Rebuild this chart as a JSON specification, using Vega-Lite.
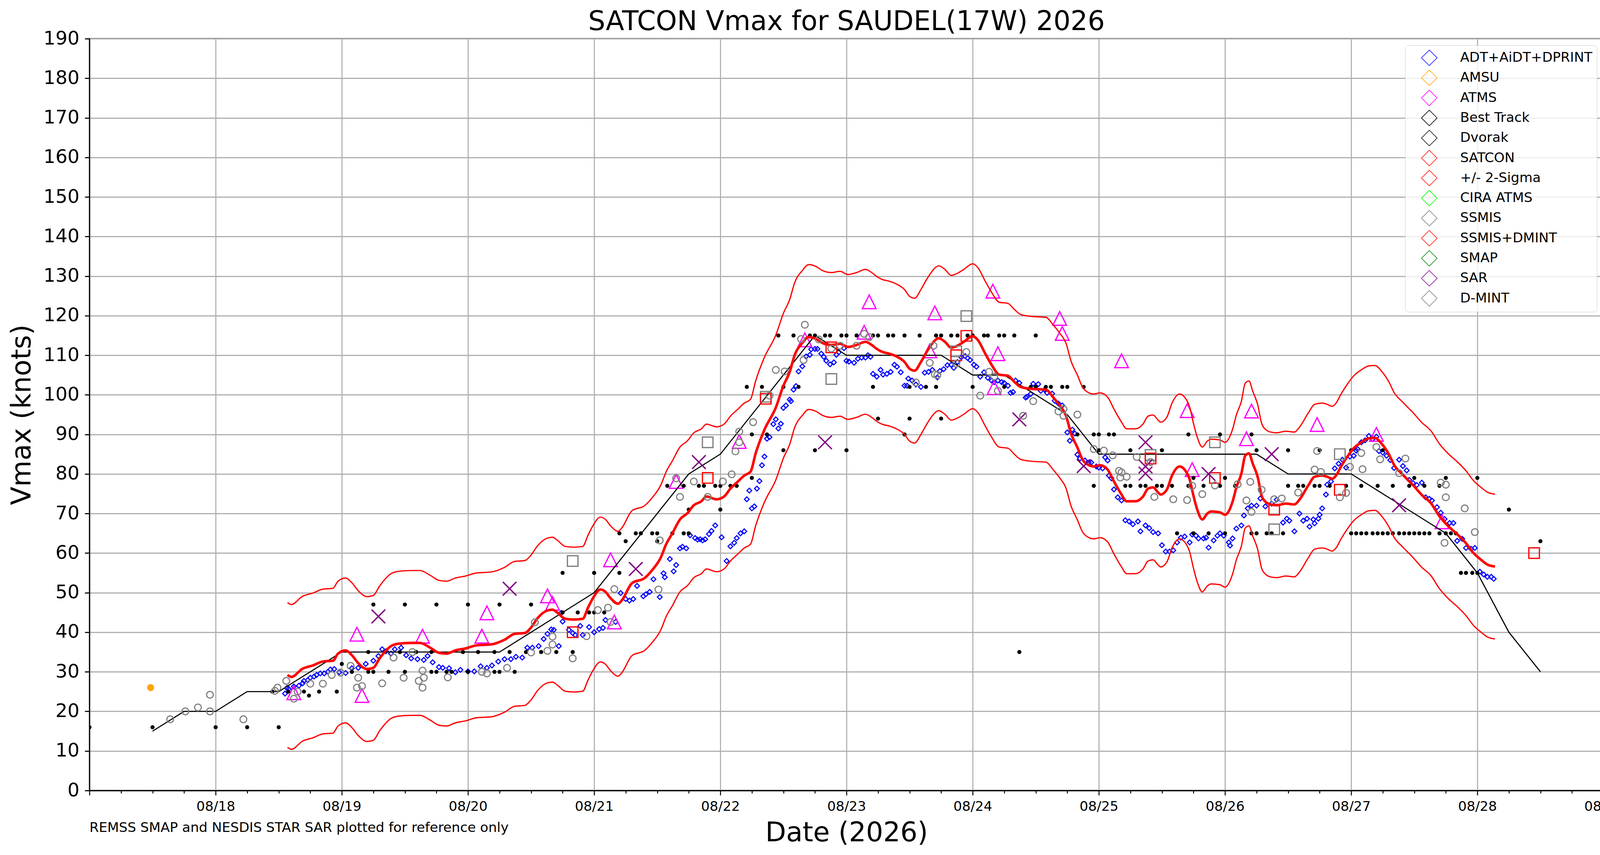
{
"$schema": "https://vega.github.io/schema/vega-lite/v6.json",
"autosize": {"type": "none"},
"padding": {"left": 229, "top": 99, "right": 74, "bottom": 165},
"width": 3876,
"height": 1924,
"background": "white",
"title": {"text": "SATCON Vmax for SAUDEL(17W) 2026", "font": "DejaVu Sans", "fontSize": 69, "fontWeight": "normal", "color": "#000000", "anchor": "middle", "frame": "group", "baseline": "alphabetic", "offset": -72},
"config": {
  "view": {"stroke": "#000000", "strokeWidth": 2.8},
  "font": "DejaVu Sans",
  "axis": {"labelFont": "DejaVu Sans", "titleFont": "DejaVu Sans", "labelColor": "#000000", "titleColor": "#000000", "domainColor": "#000000", "domainWidth": 2.8, "tickColor": "#000000", "gridColor": "#b0b0b0", "gridWidth": 2.8, "titleFontWeight": "normal"}
},
"datasets": {
  "sat": [
{"d":18.57,"v":29.2,"hi":47.5,"lo":10.9},{"d":18.6,"v":28.7,"hi":47.0,"lo":10.4},{"d":18.69,"v":30.8,"hi":49.1,"lo":12.5},{"d":18.77,"v":31.6,"hi":49.9,"lo":13.3},{"d":18.85,"v":32.6,"hi":50.9,"lo":14.3},{"d":18.93,"v":32.8,"hi":51.1,"lo":14.5},{"d":18.97,"v":34.6,"hi":52.9,"lo":16.3},{"d":19.03,"v":35.4,"hi":53.7,"lo":17.1},{"d":19.08,"v":34.2,"hi":52.5,"lo":15.9},{"d":19.13,"v":32.2,"hi":50.5,"lo":13.9},{"d":19.2,"v":30.7,"hi":49.0,"lo":12.4},{"d":19.25,"v":31.0,"hi":49.3,"lo":12.7},{"d":19.3,"v":33.4,"hi":51.7,"lo":15.1},{"d":19.39,"v":36.5,"hi":54.8,"lo":18.2},{"d":19.45,"v":37.1,"hi":55.4,"lo":18.8},{"d":19.55,"v":37.3,"hi":55.6,"lo":19.0},{"d":19.62,"v":37.3,"hi":55.6,"lo":19.0},{"d":19.7,"v":36.1,"hi":54.4,"lo":17.8},{"d":19.77,"v":34.8,"hi":53.1,"lo":16.5},{"d":19.83,"v":34.6,"hi":52.9,"lo":16.3},{"d":19.9,"v":35.4,"hi":53.7,"lo":17.1},{"d":19.98,"v":35.9,"hi":54.2,"lo":17.6},{"d":20.07,"v":36.7,"hi":55.0,"lo":18.4},{"d":20.18,"v":36.9,"hi":55.2,"lo":18.6},{"d":20.29,"v":38.1,"hi":56.4,"lo":19.8},{"d":20.37,"v":39.6,"hi":57.9,"lo":21.3},{"d":20.45,"v":39.8,"hi":58.1,"lo":21.5},{"d":20.5,"v":41.2,"hi":59.5,"lo":22.9},{"d":20.55,"v":43.5,"hi":61.8,"lo":25.2},{"d":20.63,"v":45.5,"hi":63.8,"lo":27.2},{"d":20.67,"v":45.7,"hi":64.0,"lo":27.4},{"d":20.71,"v":44.9,"hi":63.2,"lo":26.6},{"d":20.77,"v":43.4,"hi":61.7,"lo":25.1},{"d":20.84,"v":43.2,"hi":61.5,"lo":24.9},{"d":20.91,"v":43.4,"hi":61.7,"lo":25.1},{"d":20.95,"v":46.1,"hi":64.4,"lo":27.8},{"d":20.99,"v":48.6,"hi":66.9,"lo":30.3},{"d":21.05,"v":50.8,"hi":69.1,"lo":32.5},{"d":21.09,"v":50.2,"hi":68.5,"lo":31.9},{"d":21.13,"v":48.6,"hi":66.9,"lo":30.3},{"d":21.19,"v":47.2,"hi":65.5,"lo":28.9},{"d":21.22,"v":48.1,"hi":66.4,"lo":29.8},{"d":21.3,"v":52.4,"hi":70.7,"lo":34.1},{"d":21.4,"v":53.7,"hi":72.0,"lo":35.4},{"d":21.46,"v":55.7,"hi":74.0,"lo":37.4},{"d":21.53,"v":59.0,"hi":77.3,"lo":40.7},{"d":21.57,"v":62.2,"hi":80.5,"lo":43.9},{"d":21.62,"v":65.0,"hi":83.3,"lo":46.7},{"d":21.68,"v":68.5,"hi":86.8,"lo":50.2},{"d":21.74,"v":70.1,"hi":88.4,"lo":51.8},{"d":21.79,"v":72.1,"hi":90.4,"lo":53.8},{"d":21.85,"v":73.1,"hi":91.4,"lo":54.8},{"d":21.89,"v":74.3,"hi":92.6,"lo":56.0},{"d":21.97,"v":73.6,"hi":91.9,"lo":55.3},{"d":22.03,"v":74.3,"hi":92.6,"lo":56.0},{"d":22.08,"v":76.3,"hi":94.6,"lo":58.0},{"d":22.14,"v":78.1,"hi":96.4,"lo":59.8},{"d":22.19,"v":79.6,"hi":97.9,"lo":61.3},{"d":22.24,"v":80.6,"hi":98.9,"lo":62.3},{"d":22.28,"v":85.2,"hi":103.5,"lo":66.9},{"d":22.35,"v":91.2,"hi":109.5,"lo":72.9},{"d":22.44,"v":96.8,"hi":115.1,"lo":78.5},{"d":22.5,"v":102.3,"hi":120.6,"lo":84.0},{"d":22.55,"v":105.8,"hi":124.1,"lo":87.5},{"d":22.59,"v":110.1,"hi":128.4,"lo":91.8},{"d":22.65,"v":113.1,"hi":131.4,"lo":94.8},{"d":22.7,"v":114.6,"hi":132.9,"lo":96.3},{"d":22.76,"v":114.1,"hi":132.4,"lo":95.8},{"d":22.81,"v":113.1,"hi":131.4,"lo":94.8},{"d":22.88,"v":112.6,"hi":130.9,"lo":94.3},{"d":22.95,"v":112.9,"hi":131.2,"lo":94.6},{"d":23.01,"v":112.1,"hi":130.4,"lo":93.8},{"d":23.08,"v":112.6,"hi":130.9,"lo":94.3},{"d":23.15,"v":113.4,"hi":131.7,"lo":95.1},{"d":23.2,"v":112.6,"hi":130.9,"lo":94.3},{"d":23.24,"v":111.6,"hi":129.9,"lo":93.3},{"d":23.28,"v":110.9,"hi":129.2,"lo":92.6},{"d":23.34,"v":110.4,"hi":128.7,"lo":92.1},{"d":23.39,"v":109.8,"hi":128.1,"lo":91.5},{"d":23.46,"v":108.3,"hi":126.6,"lo":90.0},{"d":23.5,"v":106.6,"hi":124.9,"lo":88.3},{"d":23.54,"v":106.1,"hi":124.4,"lo":87.8},{"d":23.59,"v":108.3,"hi":126.6,"lo":90.0},{"d":23.64,"v":111.1,"hi":129.4,"lo":92.8},{"d":23.71,"v":114.0,"hi":132.3,"lo":95.7},{"d":23.73,"v":114.3,"hi":132.6,"lo":96.0},{"d":23.78,"v":113.4,"hi":131.7,"lo":95.1},{"d":23.83,"v":111.9,"hi":130.2,"lo":93.6},{"d":23.89,"v":112.6,"hi":130.9,"lo":94.3},{"d":23.93,"v":113.4,"hi":131.7,"lo":95.1},{"d":24.0,"v":114.8,"hi":133.1,"lo":96.5},{"d":24.04,"v":113.9,"hi":132.2,"lo":95.6},{"d":24.1,"v":110.4,"hi":128.7,"lo":92.1},{"d":24.15,"v":107.6,"hi":125.9,"lo":89.3},{"d":24.21,"v":105.1,"hi":123.4,"lo":86.8},{"d":24.28,"v":104.8,"hi":123.1,"lo":86.5},{"d":24.33,"v":103.3,"hi":121.6,"lo":85.0},{"d":24.38,"v":102.0,"hi":120.3,"lo":83.7},{"d":24.47,"v":101.5,"hi":119.8,"lo":83.2},{"d":24.58,"v":101.3,"hi":119.6,"lo":83.0},{"d":24.64,"v":99.3,"hi":117.6,"lo":81.0},{"d":24.69,"v":97.3,"hi":115.6,"lo":79.0},{"d":24.74,"v":94.7,"hi":113.0,"lo":76.4},{"d":24.78,"v":90.2,"hi":108.5,"lo":71.9},{"d":24.83,"v":86.7,"hi":105.0,"lo":68.4},{"d":24.87,"v":83.7,"hi":102.0,"lo":65.4},{"d":24.91,"v":82.4,"hi":100.7,"lo":64.1},{"d":24.96,"v":81.9,"hi":100.2,"lo":63.6},{"d":25.01,"v":82.2,"hi":100.5,"lo":63.9},{"d":25.07,"v":81.1,"hi":99.4,"lo":62.8},{"d":25.12,"v":78.1,"hi":96.4,"lo":59.8},{"d":25.18,"v":74.8,"hi":93.1,"lo":56.5},{"d":25.22,"v":73.1,"hi":91.4,"lo":54.8},{"d":25.29,"v":73.1,"hi":91.4,"lo":54.8},{"d":25.35,"v":74.3,"hi":92.6,"lo":56.0},{"d":25.39,"v":76.3,"hi":94.6,"lo":58.0},{"d":25.43,"v":76.6,"hi":94.9,"lo":58.3},{"d":25.47,"v":75.3,"hi":93.6,"lo":57.0},{"d":25.49,"v":74.8,"hi":93.1,"lo":56.5},{"d":25.54,"v":76.1,"hi":94.4,"lo":57.8},{"d":25.58,"v":79.6,"hi":97.9,"lo":61.3},{"d":25.64,"v":81.9,"hi":100.2,"lo":63.6},{"d":25.68,"v":81.1,"hi":99.4,"lo":62.8},{"d":25.72,"v":78.6,"hi":96.9,"lo":60.3},{"d":25.75,"v":74.5,"hi":92.8,"lo":56.2},{"d":25.78,"v":71.0,"hi":89.3,"lo":52.7},{"d":25.82,"v":68.5,"hi":86.8,"lo":50.2},{"d":25.86,"v":70.0,"hi":88.3,"lo":51.7},{"d":25.89,"v":70.5,"hi":88.8,"lo":52.2},{"d":25.96,"v":70.3,"hi":88.6,"lo":52.0},{"d":26.0,"v":69.7,"hi":88.0,"lo":51.4},{"d":26.06,"v":73.0,"hi":91.3,"lo":54.7},{"d":26.09,"v":76.6,"hi":94.9,"lo":58.3},{"d":26.13,"v":80.1,"hi":98.4,"lo":61.8},{"d":26.16,"v":84.6,"hi":102.9,"lo":66.3},{"d":26.19,"v":85.2,"hi":103.5,"lo":66.9},{"d":26.22,"v":82.6,"hi":100.9,"lo":64.3},{"d":26.26,"v":79.1,"hi":97.4,"lo":60.8},{"d":26.29,"v":74.5,"hi":92.8,"lo":56.2},{"d":26.32,"v":73.0,"hi":91.3,"lo":54.7},{"d":26.36,"v":72.3,"hi":90.6,"lo":54.0},{"d":26.41,"v":72.1,"hi":90.4,"lo":53.8},{"d":26.48,"v":72.5,"hi":90.8,"lo":54.2},{"d":26.55,"v":72.3,"hi":90.6,"lo":54.0},{"d":26.59,"v":73.5,"hi":91.8,"lo":55.2},{"d":26.66,"v":77.1,"hi":95.4,"lo":58.8},{"d":26.71,"v":79.3,"hi":97.6,"lo":61.0},{"d":26.77,"v":79.6,"hi":97.9,"lo":61.3},{"d":26.81,"v":79.3,"hi":97.6,"lo":61.0},{"d":26.85,"v":78.8,"hi":97.1,"lo":60.5},{"d":26.88,"v":79.6,"hi":97.9,"lo":61.3},{"d":26.92,"v":81.9,"hi":100.2,"lo":63.6},{"d":26.97,"v":84.4,"hi":102.7,"lo":66.1},{"d":27.02,"v":86.5,"hi":104.8,"lo":68.2},{"d":27.08,"v":88.0,"hi":106.3,"lo":69.7},{"d":27.14,"v":89.0,"hi":107.3,"lo":70.7},{"d":27.19,"v":89.1,"hi":107.4,"lo":70.8},{"d":27.24,"v":87.7,"hi":106.0,"lo":69.4},{"d":27.3,"v":84.9,"hi":103.2,"lo":66.6},{"d":27.34,"v":82.3,"hi":100.6,"lo":64.0},{"d":27.41,"v":79.8,"hi":98.1,"lo":61.5},{"d":27.49,"v":77.2,"hi":95.5,"lo":58.9},{"d":27.56,"v":74.7,"hi":93.0,"lo":56.4},{"d":27.63,"v":72.7,"hi":91.0,"lo":54.4},{"d":27.7,"v":69.3,"hi":87.6,"lo":51.0},{"d":27.77,"v":66.8,"hi":85.1,"lo":48.5},{"d":27.84,"v":64.8,"hi":83.1,"lo":46.5},{"d":27.91,"v":62.5,"hi":80.8,"lo":44.2},{"d":27.97,"v":60.0,"hi":78.3,"lo":41.7},{"d":28.03,"v":58.3,"hi":76.6,"lo":40.0},{"d":28.08,"v":57.1,"hi":75.4,"lo":38.8},{"d":28.14,"v":56.6,"hi":74.9,"lo":38.3}
  ],
  "bt": [
{"d":17.5,"v":15},{"d":17.75,"v":20},{"d":18.0,"v":20},{"d":18.25,"v":25},{"d":18.5,"v":25},{"d":18.75,"v":30},{"d":19.0,"v":35},{"d":19.25,"v":35},{"d":19.5,"v":35},{"d":19.75,"v":35},{"d":20.0,"v":35},{"d":20.25,"v":35},{"d":20.5,"v":40},{"d":20.75,"v":45},{"d":21.0,"v":50},{"d":21.25,"v":60},{"d":21.5,"v":70},{"d":21.75,"v":80},{"d":22.0,"v":85},{"d":22.25,"v":95},{"d":22.5,"v":105},{"d":22.75,"v":115},{"d":23.0,"v":110},{"d":23.25,"v":110},{"d":23.5,"v":110},{"d":23.75,"v":110},{"d":24.0,"v":105},{"d":24.25,"v":105},{"d":24.5,"v":100},{"d":24.75,"v":95},{"d":25.0,"v":85},{"d":25.25,"v":85},{"d":25.5,"v":85},{"d":25.75,"v":85},{"d":26.0,"v":85},{"d":26.25,"v":85},{"d":26.5,"v":80},{"d":26.75,"v":80},{"d":27.0,"v":80},{"d":27.25,"v":75},{"d":27.5,"v":70},{"d":27.75,"v":65},{"d":28.0,"v":55},{"d":28.25,"v":40},{"d":28.5,"v":30}
  ],
  "adt": [
{"d":18.55,"v":24.5},{"d":18.565,"v":25.9},{"d":18.58,"v":25.7},{"d":18.62,"v":26.3},{"d":18.66,"v":26.5},{"d":18.69,"v":27.1},{"d":18.7,"v":27.7},{"d":18.73,"v":27.9},{"d":18.75,"v":28.5},{"d":18.78,"v":28.8},{"d":18.8,"v":29.2},{"d":18.83,"v":29.6},{"d":18.86,"v":29.6},{"d":18.89,"v":30.0},{"d":18.91,"v":30.6},{"d":18.94,"v":30.7},{"d":18.98,"v":29.9},{"d":19.03,"v":29.7},{"d":19.08,"v":30.9},{"d":19.13,"v":31.0},{"d":19.19,"v":32.0},{"d":19.25,"v":32.8},{"d":19.29,"v":34.0},{"d":19.32,"v":35.7},{"d":19.35,"v":35.2},{"d":19.39,"v":34.6},{"d":19.42,"v":35.7},{"d":19.47,"v":36.1},{"d":19.51,"v":34.2},{"d":19.55,"v":33.4},{"d":19.6,"v":33.2},{"d":19.65,"v":33.0},{"d":19.68,"v":34.0},{"d":19.72,"v":32.4},{"d":19.77,"v":31.2},{"d":19.8,"v":31.0},{"d":19.85,"v":30.9},{"d":19.9,"v":29.9},{"d":19.94,"v":30.5},{"d":20.0,"v":30.1},{"d":20.05,"v":30.1},{"d":20.1,"v":31.4},{"d":20.15,"v":31.0},{"d":20.19,"v":31.6},{"d":20.24,"v":32.6},{"d":20.29,"v":33.2},{"d":20.34,"v":33.2},{"d":20.38,"v":33.8},{"d":20.43,"v":33.6},{"d":20.47,"v":36.1},{"d":20.51,"v":36.1},{"d":20.56,"v":36.5},{"d":20.6,"v":38.3},{"d":20.63,"v":39.6},{"d":20.66,"v":40.7},{"d":20.68,"v":40.6},{"d":20.72,"v":36.5},{"d":20.74,"v":44.9},{"d":20.75,"v":42.7},{"d":20.8,"v":40.6},{"d":20.83,"v":39.8},{"d":20.85,"v":39.3},{"d":20.89,"v":41.6},{"d":20.91,"v":39.3},{"d":20.96,"v":41.3},{"d":21.0,"v":40.0},{"d":21.04,"v":40.8},{"d":21.07,"v":41.1},{"d":21.09,"v":43.1},{"d":21.17,"v":42.6},{"d":21.21,"v":49.9},{"d":21.25,"v":48.4},{"d":21.28,"v":48.0},{"d":21.31,"v":48.4},{"d":21.34,"v":51.7},{"d":21.39,"v":49.1},{"d":21.41,"v":49.6},{"d":21.44,"v":50.2},{"d":21.47,"v":53.4},{"d":21.52,"v":48.9},{"d":21.55,"v":54.9},{"d":21.56,"v":53.9},{"d":21.6,"v":58.5},{"d":21.63,"v":55.4},{"d":21.65,"v":57.0},{"d":21.68,"v":61.2},{"d":21.7,"v":61.6},{"d":21.73,"v":61.2},{"d":21.76,"v":64.5},{"d":21.8,"v":63.8},{"d":21.82,"v":63.4},{"d":21.84,"v":63.5},{"d":21.86,"v":63.2},{"d":21.88,"v":63.5},{"d":21.91,"v":64.8},{"d":21.93,"v":65.6},{"d":21.96,"v":67.0},{"d":22.01,"v":64.0},{"d":22.05,"v":58.0},{"d":22.08,"v":61.7},{"d":22.11,"v":62.6},{"d":22.13,"v":63.8},{"d":22.16,"v":65.0},{"d":22.19,"v":65.5},{"d":22.21,"v":73.6},{"d":22.23,"v":75.8},{"d":22.25,"v":71.3},{"d":22.27,"v":71.8},{"d":22.29,"v":76.3},{"d":22.31,"v":78.2},{"d":22.33,"v":82.2},{"d":22.35,"v":84.4},{"d":22.37,"v":88.9},{"d":22.39,"v":89.3},{"d":22.42,"v":92.6},{"d":22.44,"v":93.8},{"d":22.46,"v":91.5},{"d":22.48,"v":92.7},{"d":22.5,"v":96.7},{"d":22.52,"v":97.3},{"d":22.55,"v":98.8},{"d":22.56,"v":98.4},{"d":22.58,"v":101.3},{"d":22.6,"v":102.2},{"d":22.62,"v":105.9},{"d":22.65,"v":107.2},{"d":22.68,"v":109.7},{"d":22.71,"v":110.1},{"d":22.72,"v":111.5},{"d":22.75,"v":111.6},{"d":22.77,"v":111.6},{"d":22.8,"v":110.4},{"d":22.82,"v":109.6},{"d":22.84,"v":108.6},{"d":22.87,"v":107.7},{"d":22.9,"v":108.2},{"d":22.92,"v":110.1},{"d":22.94,"v":110.8},{"d":22.98,"v":111.8},{"d":23.0,"v":108.6},{"d":23.02,"v":108.4},{"d":23.06,"v":108.1},{"d":23.09,"v":109.1},{"d":23.12,"v":109.4},{"d":23.15,"v":109.4},{"d":23.17,"v":110.0},{"d":23.19,"v":109.6},{"d":23.21,"v":105.3},{"d":23.24,"v":104.6},{"d":23.27,"v":106.3},{"d":23.29,"v":105.1},{"d":23.32,"v":105.3},{"d":23.35,"v":105.8},{"d":23.38,"v":107.6},{"d":23.4,"v":107.1},{"d":23.43,"v":105.7},{"d":23.46,"v":102.3},{"d":23.48,"v":102.3},{"d":23.49,"v":104.1},{"d":23.52,"v":103.6},{"d":23.55,"v":102.6},{"d":23.59,"v":102.0},{"d":23.62,"v":105.6},{"d":23.65,"v":105.8},{"d":23.68,"v":106.3},{"d":23.72,"v":104.4},{"d":23.74,"v":106.0},{"d":23.77,"v":106.5},{"d":23.8,"v":107.5},{"d":23.83,"v":107.6},{"d":23.85,"v":106.8},{"d":23.88,"v":108.3},{"d":23.91,"v":109.5},{"d":23.94,"v":109.8},{"d":23.96,"v":109.3},{"d":23.98,"v":108.8},{"d":24.01,"v":107.6},{"d":24.03,"v":107.1},{"d":24.06,"v":104.6},{"d":24.09,"v":105.7},{"d":24.12,"v":104.3},{"d":24.15,"v":103.6},{"d":24.17,"v":103.2},{"d":24.2,"v":103.6},{"d":24.23,"v":103.2},{"d":24.25,"v":103.0},{"d":24.28,"v":102.3},{"d":24.3,"v":100.5},{"d":24.32,"v":100.7},{"d":24.34,"v":103.6},{"d":24.37,"v":103.0},{"d":24.42,"v":99.3},{"d":24.43,"v":99.5},{"d":24.46,"v":100.2},{"d":24.48,"v":102.8},{"d":24.52,"v":102.7},{"d":24.54,"v":101.0},{"d":24.57,"v":101.3},{"d":24.59,"v":100.5},{"d":24.63,"v":100.3},{"d":24.65,"v":98.5},{"d":24.68,"v":97.8},{"d":24.71,"v":97.3},{"d":24.75,"v":90.5},{"d":24.77,"v":88.4},{"d":24.79,"v":91.2},{"d":24.81,"v":90.2},{"d":24.83,"v":84.9},{"d":24.85,"v":83.9},{"d":24.89,"v":83.4},{"d":24.92,"v":82.9},{"d":24.94,"v":82.9},{"d":24.98,"v":81.9},{"d":25.0,"v":81.6},{"d":25.03,"v":81.4},{"d":25.05,"v":84.2},{"d":25.07,"v":83.4},{"d":25.08,"v":79.6},{"d":25.1,"v":78.9},{"d":25.12,"v":76.1},{"d":25.15,"v":74.1},{"d":25.18,"v":73.3},{"d":25.21,"v":68.3},{"d":25.24,"v":68.0},{"d":25.27,"v":67.3},{"d":25.31,"v":68.0},{"d":25.33,"v":65.5},{"d":25.37,"v":67.0},{"d":25.4,"v":66.3},{"d":25.43,"v":65.3},{"d":25.47,"v":65.0},{"d":25.5,"v":62.0},{"d":25.53,"v":60.4},{"d":25.56,"v":60.4},{"d":25.59,"v":60.7},{"d":25.62,"v":62.7},{"d":25.65,"v":63.9},{"d":25.68,"v":64.2},{"d":25.72,"v":62.7},{"d":25.74,"v":64.7},{"d":25.77,"v":64.4},{"d":25.79,"v":63.7},{"d":25.83,"v":63.7},{"d":25.85,"v":63.9},{"d":25.87,"v":61.4},{"d":25.91,"v":63.2},{"d":25.94,"v":64.4},{"d":25.96,"v":65.0},{"d":25.99,"v":64.4},{"d":26.03,"v":62.7},{"d":26.04,"v":61.9},{"d":26.06,"v":63.7},{"d":26.09,"v":66.2},{"d":26.13,"v":67.0},{"d":26.15,"v":69.5},{"d":26.18,"v":71.3},{"d":26.21,"v":72.0},{"d":26.25,"v":72.0},{"d":26.28,"v":73.8},{"d":26.32,"v":71.8},{"d":26.37,"v":72.5},{"d":26.41,"v":73.5},{"d":26.46,"v":67.7},{"d":26.49,"v":68.7},{"d":26.51,"v":68.2},{"d":26.55,"v":65.5},{"d":26.59,"v":70.0},{"d":26.62,"v":68.2},{"d":26.65,"v":68.7},{"d":26.67,"v":66.7},{"d":26.7,"v":68.5},{"d":26.71,"v":67.5},{"d":26.74,"v":68.7},{"d":26.75,"v":69.7},{"d":26.77,"v":71.3},{"d":26.8,"v":74.8},{"d":26.81,"v":77.3},{"d":26.84,"v":78.1},{"d":26.87,"v":81.4},{"d":26.9,"v":82.6},{"d":26.93,"v":83.6},{"d":26.96,"v":81.6},{"d":26.99,"v":84.4},{"d":27.02,"v":84.6},{"d":27.04,"v":85.9},{"d":27.05,"v":86.3},{"d":27.08,"v":88.0},{"d":27.11,"v":88.5},{"d":27.14,"v":89.6},{"d":27.17,"v":88.8},{"d":27.2,"v":89.4},{"d":27.22,"v":85.8},{"d":27.25,"v":85.4},{"d":27.28,"v":84.6},{"d":27.31,"v":83.5},{"d":27.34,"v":81.5},{"d":27.38,"v":83.6},{"d":27.41,"v":82.0},{"d":27.44,"v":80.9},{"d":27.46,"v":78.5},{"d":27.49,"v":77.7},{"d":27.52,"v":77.2},{"d":27.56,"v":77.8},{"d":27.59,"v":74.1},{"d":27.62,"v":73.7},{"d":27.64,"v":73.3},{"d":27.68,"v":71.6},{"d":27.71,"v":70.2},{"d":27.74,"v":68.6},{"d":27.78,"v":67.6},{"d":27.81,"v":67.6},{"d":27.84,"v":63.1},{"d":27.88,"v":63.6},{"d":27.91,"v":61.3},{"d":27.95,"v":61.1},{"d":27.98,"v":61.3},{"d":28.02,"v":55.3},{"d":28.05,"v":54.6},{"d":28.08,"v":54.0},{"d":28.11,"v":54.0},{"d":28.13,"v":53.5}
  ],
  "amsu": [{"d":17.485,"v":26}],
  "atms": [
{"d":18.62,"v":24.7},{"d":19.12,"v":39.5},{"d":19.16,"v":24.0},{"d":19.64,"v":39.0},{"d":20.15,"v":44.9},{"d":20.11,"v":39.0},{"d":20.63,"v":49.2},{"d":20.67,"v":47.3},{"d":21.16,"v":42.6},{"d":21.13,"v":58.3},{"d":21.65,"v":78.1},{"d":22.15,"v":88.2},{"d":22.67,"v":113.9},{"d":23.18,"v":123.5},{"d":23.14,"v":115.8},{"d":23.7,"v":120.7},{"d":23.66,"v":111.1},{"d":24.16,"v":126.2},{"d":24.2,"v":110.4},{"d":24.17,"v":101.8},{"d":24.69,"v":119.3},{"d":24.71,"v":115.5},{"d":25.18,"v":108.6},{"d":25.7,"v":96.0},{"d":25.74,"v":81.1},{"d":26.21,"v":95.9},{"d":26.17,"v":88.9},{"d":26.73,"v":92.5},{"d":27.2,"v":90.0},{"d":27.72,"v":67.9}
  ],
  "dvorak": [
{"d":17.0,"v":16},{"d":17.5,"v":16},{"d":18.0,"v":16},{"d":18.25,"v":16},{"d":18.5,"v":16},{"d":18.45,"v":25},{"d":18.575,"v":25},{"d":18.7,"v":25},{"d":18.74,"v":24},{"d":18.82,"v":25},{"d":18.96,"v":25},{"d":19.0,"v":32},{"d":19.08,"v":30},{"d":19.21,"v":35},{"d":19.21,"v":30},{"d":19.25,"v":47},{"d":19.25,"v":30},{"d":19.37,"v":30},{"d":19.46,"v":35},{"d":19.5,"v":47},{"d":19.5,"v":30},{"d":19.59,"v":35},{"d":19.71,"v":35},{"d":19.71,"v":30},{"d":19.75,"v":47},{"d":19.75,"v":30},{"d":19.83,"v":30},{"d":19.87,"v":30},{"d":19.96,"v":35},{"d":20.0,"v":47},{"d":20.0,"v":30},{"d":20.08,"v":35},{"d":20.21,"v":35},{"d":20.21,"v":30},{"d":20.25,"v":47},{"d":20.25,"v":30},{"d":20.33,"v":35},{"d":20.37,"v":30},{"d":20.46,"v":35},{"d":20.5,"v":47},{"d":20.58,"v":35},{"d":20.7,"v":35},{"d":20.75,"v":55},{"d":20.83,"v":35},{"d":20.75,"v":45},{"d":20.87,"v":45},{"d":20.96,"v":45},{"d":21.0,"v":45},{"d":21.08,"v":45},{"d":21.0,"v":55},{"d":21.2,"v":55},{"d":21.2,"v":65},{"d":21.25,"v":63},{"d":21.33,"v":65},{"d":21.37,"v":65},{"d":21.46,"v":65},{"d":21.5,"v":65},{"d":21.5,"v":63},{"d":21.62,"v":65},{"d":21.71,"v":65},{"d":21.75,"v":65},{"d":21.58,"v":77},{"d":21.71,"v":77},{"d":21.83,"v":77},{"d":21.87,"v":77},{"d":21.96,"v":77},{"d":22.0,"v":77},{"d":22.08,"v":77},{"d":22.13,"v":77},{"d":21.75,"v":71},{"d":22.0,"v":71},{"d":22.25,"v":90},{"d":22.25,"v":79},{"d":22.21,"v":102},{"d":22.33,"v":102},{"d":22.5,"v":102},{"d":22.62,"v":102},{"d":22.37,"v":90},{"d":22.5,"v":86},{"d":22.75,"v":86},{"d":23.0,"v":86},{"d":22.46,"v":115},{"d":22.58,"v":115},{"d":22.71,"v":115},{"d":22.75,"v":115},{"d":22.83,"v":115},{"d":22.87,"v":115},{"d":22.96,"v":115},{"d":23.0,"v":115},{"d":23.08,"v":115},{"d":23.21,"v":115},{"d":23.25,"v":115},{"d":23.33,"v":115},{"d":23.37,"v":115},{"d":23.46,"v":115},{"d":23.58,"v":115},{"d":23.71,"v":115},{"d":23.75,"v":115},{"d":23.83,"v":115},{"d":23.88,"v":115},{"d":23.96,"v":115},{"d":24.0,"v":115},{"d":24.09,"v":115},{"d":24.12,"v":115},{"d":24.21,"v":115},{"d":24.25,"v":115},{"d":24.33,"v":115},{"d":24.5,"v":115},{"d":23.21,"v":102},{"d":23.5,"v":102},{"d":23.63,"v":102},{"d":23.71,"v":102},{"d":23.25,"v":94},{"d":23.5,"v":94},{"d":23.75,"v":94},{"d":23.46,"v":90},{"d":24.0,"v":102},{"d":24.25,"v":102},{"d":24.46,"v":102},{"d":24.5,"v":102},{"d":24.58,"v":102},{"d":24.62,"v":102},{"d":24.71,"v":102},{"d":24.75,"v":102},{"d":24.88,"v":102},{"d":24.37,"v":35},{"d":24.83,"v":90},{"d":24.96,"v":90},{"d":25.0,"v":90},{"d":25.08,"v":90},{"d":25.12,"v":90},{"d":25.0,"v":86},{"d":25.25,"v":86},{"d":24.96,"v":77},{"d":25.21,"v":77},{"d":25.25,"v":77},{"d":25.33,"v":77},{"d":25.37,"v":77},{"d":25.46,"v":77},{"d":25.5,"v":77},{"d":25.58,"v":77},{"d":25.71,"v":77},{"d":25.83,"v":77},{"d":25.96,"v":77},{"d":26.08,"v":77},{"d":26.5,"v":77},{"d":26.58,"v":77},{"d":26.62,"v":77},{"d":26.71,"v":77},{"d":26.75,"v":77},{"d":26.83,"v":77},{"d":26.96,"v":77},{"d":25.71,"v":90},{"d":25.96,"v":90},{"d":26.21,"v":90},{"d":25.5,"v":86},{"d":26.25,"v":86},{"d":26.5,"v":86},{"d":26.75,"v":86},{"d":27.0,"v":86},{"d":25.75,"v":79},{"d":26.0,"v":79},{"d":25.62,"v":65},{"d":25.75,"v":65},{"d":25.87,"v":65},{"d":26.0,"v":65},{"d":26.21,"v":65},{"d":26.25,"v":65},{"d":26.33,"v":65},{"d":26.37,"v":65},{"d":26.46,"v":65},{"d":27.0,"v":65},{"d":27.04,"v":65},{"d":27.25,"v":86},{"d":27.08,"v":77},{"d":27.21,"v":77},{"d":27.33,"v":77},{"d":27.46,"v":77},{"d":27.58,"v":77},{"d":27.7,"v":77},{"d":27.5,"v":79},{"d":27.75,"v":79},{"d":28.0,"v":79},{"d":28.25,"v":71},{"d":28.5,"v":63},{"d":27.08,"v":65},{"d":27.12,"v":65},{"d":27.17,"v":65},{"d":27.21,"v":65},{"d":27.25,"v":65},{"d":27.29,"v":65},{"d":27.33,"v":65},{"d":27.38,"v":65},{"d":27.42,"v":65},{"d":27.46,"v":65},{"d":27.5,"v":65},{"d":27.54,"v":65},{"d":27.58,"v":65},{"d":27.62,"v":65},{"d":27.7,"v":65},{"d":27.75,"v":65},{"d":27.79,"v":65},{"d":27.83,"v":65},{"d":27.87,"v":55},{"d":27.91,"v":55},{"d":27.96,"v":55},{"d":28.0,"v":55}
  ],
  "ssmis": [{"d":20.83,"v":58},{"d":21.9,"v":88},{"d":22.36,"v":99.5},{"d":22.88,"v":104},{"d":23.95,"v":119.9},{"d":23.87,"v":111},{"d":25.41,"v":84.8},{"d":25.92,"v":88},{"d":26.39,"v":66},{"d":26.91,"v":85}],
  "ssmisd": [{"d":20.83,"v":40},{"d":21.9,"v":79},{"d":22.36,"v":99},{"d":22.88,"v":112},{"d":23.87,"v":110},{"d":23.95,"v":114.9},{"d":25.41,"v":83.9},{"d":25.92,"v":79},{"d":26.39,"v":71},{"d":26.91,"v":76},{"d":28.45,"v":60}],
  "sar": [{"d":19.29,"v":44},{"d":20.33,"v":51},{"d":21.33,"v":56},{"d":21.83,"v":83},{"d":22.83,"v":88},{"d":24.37,"v":93.8},{"d":24.88,"v":82},{"d":25.37,"v":88},{"d":25.37,"v":81.9},{"d":25.37,"v":80.1},{"d":25.87,"v":80},{"d":26.37,"v":85},{"d":27.38,"v":72.1}],
  "dmint": [
{"d":17.64,"v":18},{"d":17.76,"v":20},{"d":17.86,"v":21},{"d":17.955,"v":24.2},{"d":17.955,"v":20},{"d":18.22,"v":18},{"d":18.47,"v":25.2},{"d":18.49,"v":26},{"d":18.56,"v":27.7},{"d":18.62,"v":23.2},{"d":18.65,"v":25},{"d":18.75,"v":27},{"d":18.85,"v":27},{"d":18.92,"v":29.2},{"d":18.99,"v":29.8},{"d":19.07,"v":31.5},{"d":19.13,"v":28.5},{"d":19.12,"v":26},{"d":19.16,"v":26.4},{"d":19.32,"v":27.1},{"d":19.41,"v":33.6},{"d":19.49,"v":28.5},{"d":19.56,"v":35},{"d":19.64,"v":30.3},{"d":19.61,"v":27.7},{"d":19.65,"v":28.5},{"d":19.64,"v":26},{"d":19.84,"v":28.6},{"d":20.11,"v":30},{"d":20.15,"v":29.6},{"d":20.31,"v":31},{"d":20.5,"v":34.9},{"d":20.53,"v":42.5},{"d":20.63,"v":35.3},{"d":20.67,"v":36.9},{"d":20.67,"v":38.9},{"d":20.83,"v":33.4},{"d":20.94,"v":39},{"d":21.03,"v":45.6},{"d":21.11,"v":46.2},{"d":21.13,"v":42.6},{"d":21.16,"v":50.9},{"d":21.51,"v":50.8},{"d":21.52,"v":63.2},{"d":21.65,"v":78.9},{"d":21.68,"v":74.2},{"d":21.79,"v":78.1},{"d":21.9,"v":74.2},{"d":22.02,"v":78.1},{"d":22.09,"v":79.9},{"d":22.12,"v":85.7},{"d":22.15,"v":88},{"d":22.15,"v":90.7},{"d":22.26,"v":93.1},{"d":22.39,"v":99.8},{"d":22.44,"v":106.3},{"d":22.51,"v":105.9},{"d":22.64,"v":114.1},{"d":22.67,"v":117.7},{"d":22.66,"v":108.8},{"d":22.78,"v":114},{"d":22.88,"v":111.7},{"d":22.95,"v":112.4},{"d":23.08,"v":112.4},{"d":23.14,"v":115.4},{"d":23.18,"v":114.6},{"d":23.55,"v":103.1},{"d":23.66,"v":108.1},{"d":23.69,"v":112.4},{"d":23.7,"v":105.2},{"d":23.87,"v":107.9},{"d":23.72,"v":105},{"d":23.95,"v":110.8},{"d":24.06,"v":99.8},{"d":24.13,"v":105.8},{"d":24.17,"v":104.6},{"d":24.2,"v":101},{"d":24.4,"v":94.7},{"d":24.48,"v":98.4},{"d":24.68,"v":95.8},{"d":24.72,"v":96.4},{"d":24.72,"v":94.7},{"d":24.83,"v":95},{"d":24.96,"v":86.3},{"d":25.04,"v":85.9},{"d":25.11,"v":84.7},{"d":25.16,"v":80.8},{"d":25.18,"v":80.4},{"d":25.17,"v":79.1},{"d":25.22,"v":79.3},{"d":25.3,"v":84.3},{"d":25.41,"v":83},{"d":25.44,"v":74.2},{"d":25.59,"v":73.6},{"d":25.7,"v":73.4},{"d":25.74,"v":77},{"d":25.82,"v":74.9},{"d":25.92,"v":77.1},{"d":26.1,"v":77.4},{"d":26.17,"v":73.3},{"d":26.2,"v":78},{"d":26.21,"v":70.4},{"d":26.29,"v":76},{"d":26.39,"v":73.6},{"d":26.45,"v":73.8},{"d":26.58,"v":75.3},{"d":26.71,"v":81.1},{"d":26.73,"v":85.8},{"d":26.76,"v":80.5},{"d":26.91,"v":74.1},{"d":26.96,"v":75.2},{"d":26.99,"v":81.8},{"d":27.08,"v":85.3},{"d":27.09,"v":81.2},{"d":27.2,"v":86.8},{"d":27.23,"v":83.7},{"d":27.43,"v":83.9},{"d":27.38,"v":80.2},{"d":27.71,"v":77.8},{"d":27.75,"v":77.3},{"d":27.75,"v":74.1},{"d":27.9,"v":71.3},{"d":27.98,"v":65.3},{"d":27.74,"v":62.6}
  ]
},
"encoding": {
  "x": {"type": "quantitative", "scale": {"domain": [17, 29], "nice": false, "zero": false},
    "axis": {"values": [17,17.25,17.5,17.75,18,18.25,18.5,18.75,19,19.25,19.5,19.75,20,20.25,20.5,20.75,21,21.25,21.5,21.75,22,22.25,22.5,22.75,23,23.25,23.5,23.75,24,24.25,24.5,24.75,25,25.25,25.5,25.75,26,26.25,26.5,26.75,27,27.25,27.5,27.75,28,28.25,28.5,28.75,29],
      "labelExpr": "datum.value % 1 === 0 && datum.value > 17 ? '08/' + datum.value : ''",
      "labelFontSize": 34.5, "labelPadding": 12, "labelFlush": false, "labelOverlap": false,
      "tickSize": {"condition": {"test": "datum.value % 1 === 0", "value": 12}, "value": 7},
      "tickWidth": 2.5,
      "grid": true,
      "gridOpacity": {"condition": {"test": "datum.value % 1 === 0", "value": 1}, "value": 0},
      "title": "Date (2026)", "titleFontSize": 69, "titleBaseline": "alphabetic", "titlePadding": 72}},
  "y": {"type": "quantitative", "scale": {"domain": [0, 190], "nice": false, "zero": false},
    "axis": {"values": [0,10,20,30,40,50,60,70,80,90,100,110,120,130,140,150,160,170,180,190],
      "labelFontSize": 48.3, "labelPadding": 14, "tickSize": 12, "tickWidth": 2.8, "grid": true,
      "title": "Vmax (knots)", "titleFontSize": 69, "titleBaseline": "alphabetic", "titlePadding": 33}}
},
"layer": [
  {"data": {"name": "adt"},
   "mark": {"type": "point", "shape": "diamond", "filled": false, "size": 150, "strokeWidth": 2.8, "opacity": 1},
   "encoding": {"x": {"field": "d"}, "y": {"field": "v"},
     "color": {"datum": "ADT+AiDT+DPRINT", "type": "nominal",
       "scale": {"domain": ["ADT+AiDT+DPRINT","AMSU","ATMS","Best Track","Dvorak","SATCON","+/- 2-Sigma","CIRA ATMS","SSMIS","SSMIS+DMINT","SMAP","SAR","D-MINT"],
                 "range": ["#0000ff","#ffa500","#ff00ff","#000000","#000000","#ff0000","#ff0000","#00ff00","#808080","#ff0000","#008000","#800080","#808080"]},
       "legend": {"title": null, "orient": "top-right", "offset": 17, "padding": 11, "cornerRadius": 7,
         "strokeColor": "#cccccc", "fillColor": "rgba(255,255,255,0.8)",
         "labelFont": "DejaVu Sans", "labelFontSize": 34.5, "labelColor": "#000000", "labelBaseline": "middle", "labelLimit": 1000,
         "symbolSize": 1600, "symbolOffset": 30, "labelOffset": 58, "rowPadding": 5.3, "symbolLimit": 20}}}},
  {"data": {"name": "amsu"},
   "mark": {"type": "point", "shape": "circle", "filled": true, "size": 324, "color": "#ffa500", "opacity": 1},
   "encoding": {"x": {"field": "d"}, "y": {"field": "v"}}},
  {"data": {"name": "atms"},
   "mark": {"type": "point", "shape": "M0,-1L-1,1L1,1Z", "filled": false, "size": 1225, "color": "#ff00ff", "strokeWidth": 3.2, "opacity": 1},
   "encoding": {"x": {"field": "d"}, "y": {"field": "v"}}},
  {"data": {"name": "bt"},
   "mark": {"type": "line", "color": "#000000", "strokeWidth": 2.8},
   "encoding": {"x": {"field": "d"}, "y": {"field": "v"}}},
  {"data": {"name": "dvorak"},
   "mark": {"type": "point", "shape": "circle", "filled": true, "size": 110, "color": "#000000", "opacity": 1, "clip": true},
   "encoding": {"x": {"field": "d"}, "y": {"field": "v"}}},
  {"data": {"name": "sat"},
   "mark": {"type": "line", "color": "#ff0000", "strokeWidth": 6.5, "interpolate": "monotone"},
   "encoding": {"x": {"field": "d"}, "y": {"field": "v"}}},
  {"data": {"name": "sat"},
   "mark": {"type": "line", "color": "#ff0000", "strokeWidth": 3.2, "interpolate": "monotone"},
   "encoding": {"x": {"field": "d"}, "y": {"field": "hi"}}},
  {"data": {"name": "sat"},
   "mark": {"type": "line", "color": "#ff0000", "strokeWidth": 3.2, "interpolate": "monotone"},
   "encoding": {"x": {"field": "d"}, "y": {"field": "lo"}}},
  {"data": {"name": "ssmis"},
   "mark": {"type": "point", "shape": "square", "filled": false, "size": 729, "color": "#808080", "strokeWidth": 3.2, "opacity": 1},
   "encoding": {"x": {"field": "d"}, "y": {"field": "v"}}},
  {"data": {"name": "ssmisd"},
   "mark": {"type": "point", "shape": "square", "filled": false, "size": 729, "color": "#ff0000", "strokeWidth": 3.2, "opacity": 1},
   "encoding": {"x": {"field": "d"}, "y": {"field": "v"}}},
  {"data": {"name": "sar"},
   "mark": {"type": "point", "shape": "M-1,-1L1,1M-1,1L1,-1", "filled": false, "size": 1225, "color": "#800080", "strokeWidth": 3.5, "opacity": 1},
   "encoding": {"x": {"field": "d"}, "y": {"field": "v"}}},
  {"data": {"name": "dmint"},
   "mark": {"type": "point", "shape": "circle", "filled": false, "size": 300, "color": "#808080", "strokeWidth": 3, "opacity": 1},
   "encoding": {"x": {"field": "d"}, "y": {"field": "v"}}},
  {"data": {"values": [{"note": "REMSS SMAP and NESDIS STAR SAR plotted for reference only"}]},
   "mark": {"type": "text", "align": "left", "baseline": "alphabetic", "fontSize": 34.5, "font": "DejaVu Sans", "color": "#000000"},
   "encoding": {"x": {"datum": 17}, "y": {"datum": -10.5}, "text": {"field": "note"}}}
]
}
